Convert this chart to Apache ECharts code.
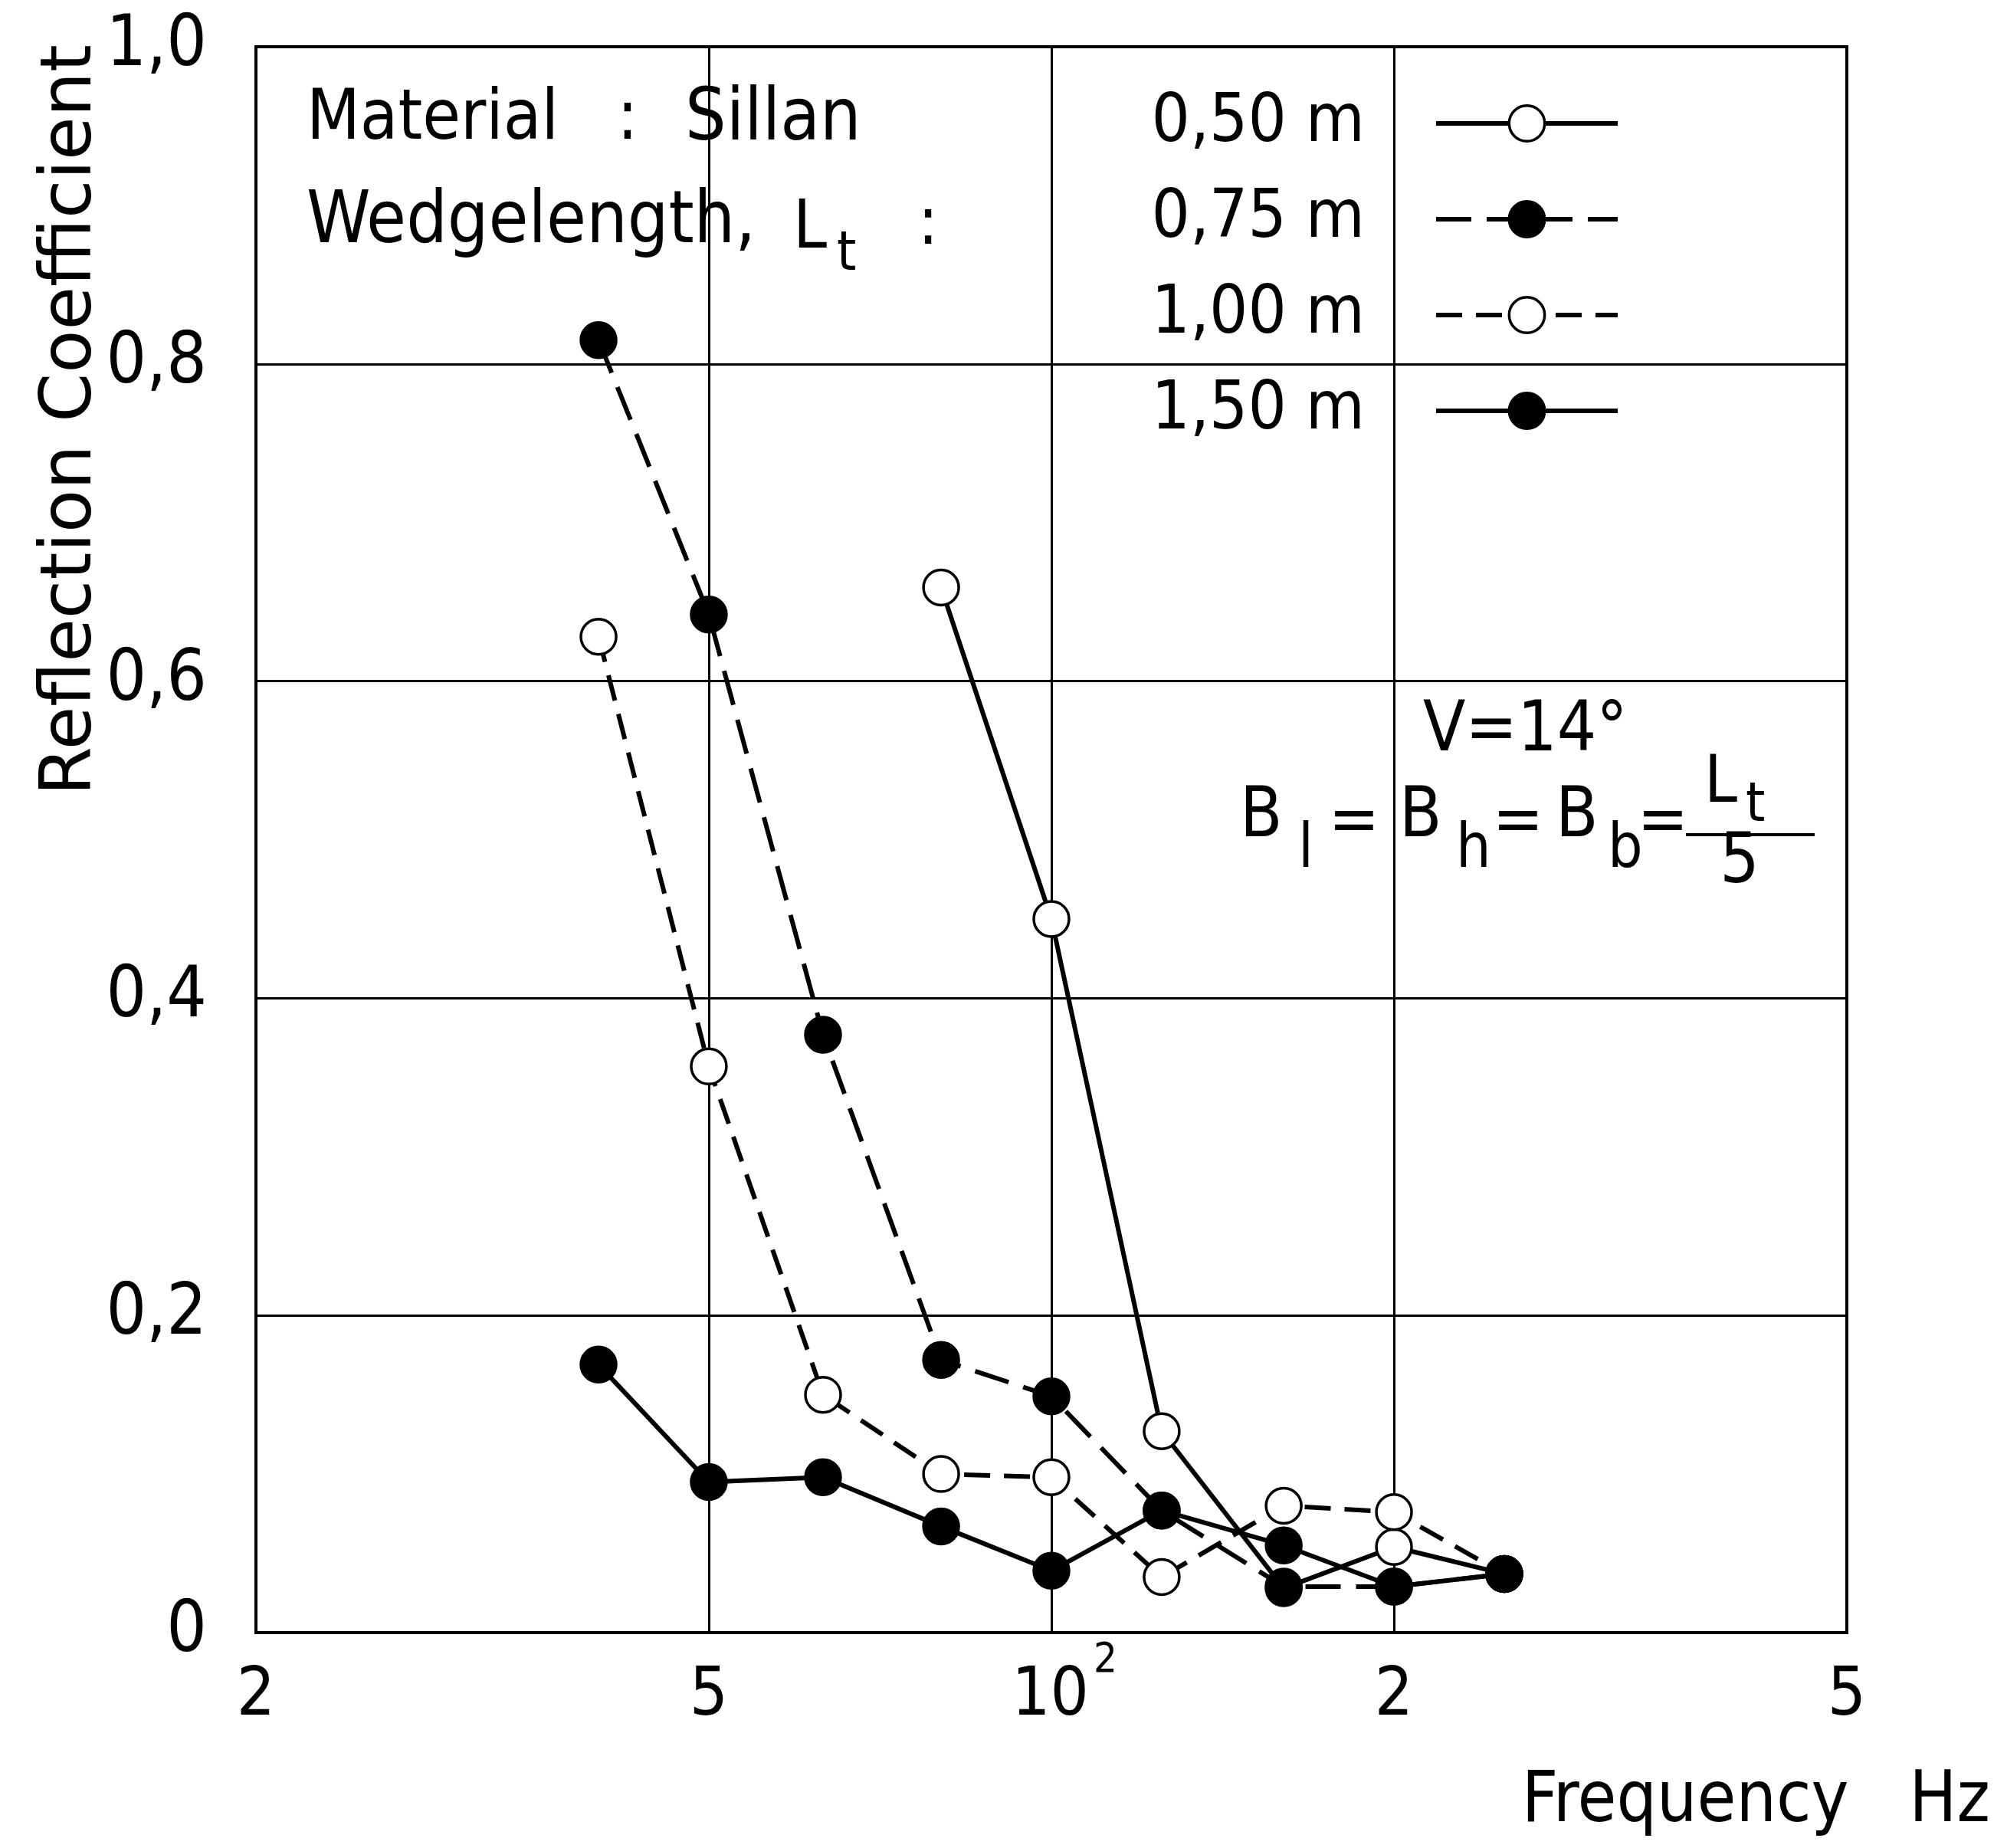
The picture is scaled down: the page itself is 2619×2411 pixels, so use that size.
<!DOCTYPE html>
<html>
<head>
<meta charset="utf-8">
<script src="https://cdn.jsdelivr.net/npm/echarts@6/dist/echarts.min.js"></script>
<style>
html, body { margin: 0; background: #fff; }
#chart { width: 2619px; height: 2411px; }
</style>
</head>
<body>
<div id="chart"></div>
<script>
// third-octave measuring frequencies, Hz
const frequencies = [40, 50, 63, 80, 100, 125, 160, 200, 250];
const seriesNames = ['0,50 m', '0,75 m', '1,00 m', '1,50 m'];
// reflection coefficient per wedge length (null = not measured)
const wedge050 = [null, null, null, 0.659, 0.450, 0.127, 0.028, 0.054, 0.037];
const wedge075 = [0.815, 0.642, 0.377, 0.172, 0.149, 0.077, 0.029, 0.029, 0.037];
const wedge100 = [0.628, 0.357, 0.150, 0.100, 0.098, 0.035, 0.080, 0.076, 0.037];
const wedge150 = [0.169, 0.095, 0.098, 0.067, 0.039, 0.077, 0.055, 0.029, 0.037];
const xTickValues = [20, 50, 100, 200, 500];
const xTickLabels = ['2', '5', '10^2', '2', '5'];
const yTickLabels = ['0', '0,2', '0,4', '0,6', '0,8', '1,0'];

const FONT = '"DejaVu Sans Condensed", "DejaVu Sans", sans-serif';

const chart = echarts.init(document.getElementById('chart'), null, { renderer: 'canvas' });

function makeSeries(name, values, filled, dash) {
    return {
        name: name,
        type: 'line',
        data: frequencies.map((f, i) => [f, values[i]]).filter(p => p[1] !== null),
        symbol: 'circle',
        symbolSize: 46,
        lineStyle: { color: '#000', width: 6, type: dash },
        itemStyle: { color: filled ? '#000' : '#fff', borderColor: '#000', borderWidth: 3.5 },
        emphasis: { disabled: true },
        animation: false
    };
}

// plain text helper for the annotations
function txt(x, y, text, size, align) {
    return {
        type: 'text',
        x: x,
        y: y,
        style: {
            text: text,
            fontSize: size,
            fontFamily: FONT,
            fill: '#000',
            align: align || 'left',
            verticalAlign: 'middle'
        }
    };
}

const option = {
    backgroundColor: '#fff',
    animation: false,
    grid: {
        left: 334, right: 209, top: 61, bottom: 281,
        show: true, borderColor: '#000', borderWidth: 4
    },
    xAxis: {
        type: 'log',
        logBase: 10,
        min: 20,
        max: 500,
        axisLine: { show: true, lineStyle: { color: '#000', width: 4 } },
        axisTick: { show: false, customValues: xTickValues },
        splitLine: { show: true, lineStyle: { color: '#000', width: 3 } },
        minorTick: { show: false },
        axisLabel: {
            customValues: xTickValues,
            margin: 10,
            color: '#000',
            fontFamily: FONT,
            fontSize: 88,
            formatter: function (v) {
                let best = 0;
                xTickValues.forEach((t, i) => {
                    if (Math.abs(Math.log(t / v)) < Math.abs(Math.log(xTickValues[best] / v))) best = i;
                });
                const s = xTickLabels[best];
                const m = s.match(/^(\d+)\^(\d+)$/);
                return m ? '{q|' + m[1] + '}{sup|' + m[2] + '}' : '{p|' + s + '}';
            },
            rich: {
                p: { fontSize: 88, fontFamily: FONT, color: '#000', padding: [30, 0, 0, 0] },
                q: { fontSize: 88, fontFamily: FONT, color: '#000', padding: [30, 0, 0, 34] },
                sup: { fontSize: 54, fontFamily: FONT, color: '#000', verticalAlign: 'top', padding: [0, 0, 0, 6] }
            }
        }
    },
    yAxis: {
        type: 'value',
        min: 0,
        max: 1,
        interval: 0.2,
        axisLine: { show: true, lineStyle: { color: '#000', width: 4 } },
        axisTick: { show: false },
        splitLine: { show: true, lineStyle: { color: '#000', width: 3 } },
        axisLabel: {
            margin: 64,
            color: '#000',
            fontFamily: FONT,
            fontSize: 92,
            formatter: v => yTickLabels[Math.round(v / 0.2)]
        }
    },
    legend: {
        data: seriesNames,
        orient: 'vertical',
        right: 505,
        top: 117,
        align: 'right',
        padding: 0,
        itemWidth: 237,
        itemHeight: 58,
        itemGap: 37,
        selectedMode: false,
        lineStyle: { width: 6 },
        itemStyle: { borderWidth: 3.5 },
        textStyle: {
            color: '#000',
            fontFamily: FONT,
            fontSize: 88,
            lineHeight: 58,
            padding: [0, 88, 0, 0]
        }
    },
    graphic: [
        // axis names
        {
            type: 'text',
            x: 94, y: 548,
            rotation: Math.PI / 2,
            style: {
                text: 'Reflection Coefficient',
                fontSize: 92, fontFamily: '"DejaVu Sans", sans-serif', fill: '#000',
                align: 'center', verticalAlign: 'middle'
            }
        },
        txt(2597, 2352, 'Frequency   Hz', 92, 'right'),
        // material / wedge length header
        txt(400, 158, 'Material', 90),
        txt(819, 158, ':', 90, 'center'),
        txt(894, 158, 'Sillan', 94),
        txt(400, 292, 'Wedgelength,', 94),
        txt(1035, 300, 'L', 88),
        txt(1092, 333, 't', 72),
        txt(1211, 295, ':', 88, 'center'),
        // wedge geometry
        txt(1857, 956, 'V=14°', 90),
        txt(1618, 1068, 'B', 90),
        txt(1694, 1110, 'l', 80),
        txt(1767, 1075, '=', 88, 'center'),
        txt(1826, 1068, 'B', 90),
        txt(1900, 1110, 'h', 80),
        txt(1981, 1075, '=', 88, 'center'),
        txt(2030, 1068, 'B', 90),
        txt(2098, 1110, 'b', 80),
        txt(2170, 1075, '=', 88, 'center'),
        txt(2224, 1024, 'L', 86),
        txt(2278, 1052, 't', 72),
        txt(2270, 1128, '5', 90, 'center'),
        {
            type: 'line',
            shape: { x1: 2200, y1: 1089, x2: 2368, y2: 1089 },
            style: { stroke: '#000', lineWidth: 4 }
        }
    ],
    series: [
        makeSeries(seriesNames[0], wedge050, false, 'solid'),
        makeSeries(seriesNames[1], wedge075, true, [46, 20]),
        makeSeries(seriesNames[2], wedge100, false, [34, 18]),
        makeSeries(seriesNames[3], wedge150, true, 'solid')
    ]
};

chart.setOption(option);
</script>
</body>
</html>
